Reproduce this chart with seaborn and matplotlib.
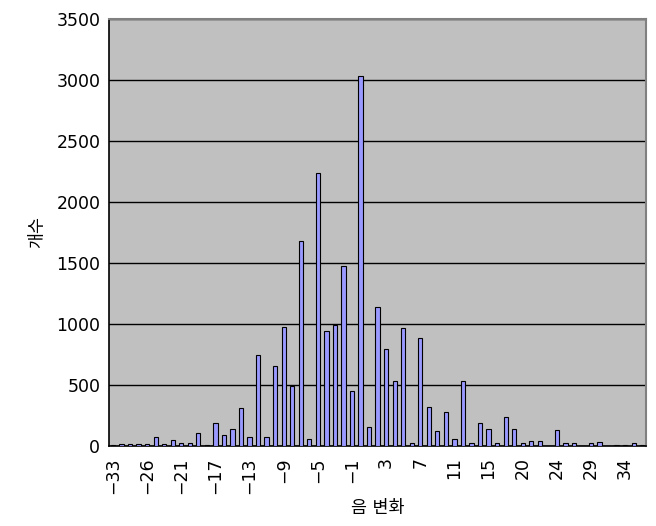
import matplotlib
matplotlib.use("Agg")
import matplotlib.pyplot as plt
import seaborn as sns
import pandas as pd

categories = [-33, -31, -29, -28, -26, -24, -23, -22,
              -21, -20, -19, -18, -17, -16, -15, -14, -13, -12, -11, -10,
              -9, -8, -7, -6, -5, -4, -3, -2, -1, 0, 1, 2, 3, 4, 5, 6,
              7, 8, 9, 10, 11, 12, 13, 14, 15, 16, 17, 18, 20, 21, 22, 23,
              24, 25, 26, 27, 29, 30, 31, 32, 34, 35, 36]
counts = [5, 15, 15, 15, 15, 72, 15, 49,
          26, 26, 103, 10, 190, 94, 136, 310, 70, 742, 70, 654,
          978, 492, 1683, 57, 2236, 945, 989, 1478, 448, 3033, 153, 1142,
          795, 533, 967, 25, 883, 317, 126, 276, 57, 533, 25, 186, 140,
          25, 241, 140, 25, 41, 41, 0, 131, 25, 25, 0, 25, 36, 0, 10, 10, 25, 10]
y_ticks = [0, 500, 1000, 1500, 2000, 2500, 3000, 3500]
x_title = "음 변화"
y_title = "개수"


def fmt(v):
    return ("\u2212" + str(-v)) if v < 0 else str(v)


labels = [fmt(c) for c in categories]
df = pd.DataFrame({"cat": labels, "n": counts})

sns.set_theme(style="white")
plt.rcParams["font.family"] = ["DejaVu Sans", "Noto Sans CJK KR"]
plt.rcParams["text.color"] = "black"
plt.rcParams["axes.labelcolor"] = "black"
plt.rcParams["xtick.color"] = "black"
plt.rcParams["ytick.color"] = "black"

fig = plt.figure(figsize=(6.56, 5.26), dpi=100)
ax = fig.add_axes([0.1657, 0.1521, 0.9855 - 0.1657, 0.9639 - 0.1521])
ax.set_facecolor("#C0C0C0")

sns.barplot(data=df, x="cat", y="n", order=labels, color="#9999FF",
            edgecolor="black", linewidth=0.8, width=0.5, saturation=1,
            ax=ax, zorder=3)

ax.set_ylim(0, 3500)
ax.set_xlim(-0.5, len(labels) - 0.5)
ax.set_yticks(y_ticks)
ax.yaxis.grid(True, color="black", linewidth=1)
ax.set_axisbelow(True)

idx = list(range(0, len(labels), 4))
ax.set_xticks(idx)
ax.set_xticklabels([labels[i] for i in idx], rotation=90, fontsize=12.5)
ax.set_xticks([i - 0.5 for i in range(len(labels) + 1)], minor=True)
ax.tick_params(axis="x", which="major", length=0, pad=8, labelcolor="black")
ax.tick_params(axis="x", which="minor", direction="in", length=6,
               color="#505050", width=1)
ax.tick_params(axis="y", direction="in", length=6, color="black",
               labelsize=12.5, pad=6, labelcolor="black")

for s in ["left", "bottom"]:
    ax.spines[s].set_color("black")
    ax.spines[s].set_linewidth(1.2)
for s in ["top", "right"]:
    ax.spines[s].set_color("#808080")
    ax.spines[s].set_linewidth(1.5)

ax.set_xlabel(x_title, fontsize=12.5, labelpad=4, color="black")
ax.set_ylabel(y_title, fontsize=12.5, labelpad=7, color="black")

fig.savefig("out.png", dpi=100, facecolor="white")
